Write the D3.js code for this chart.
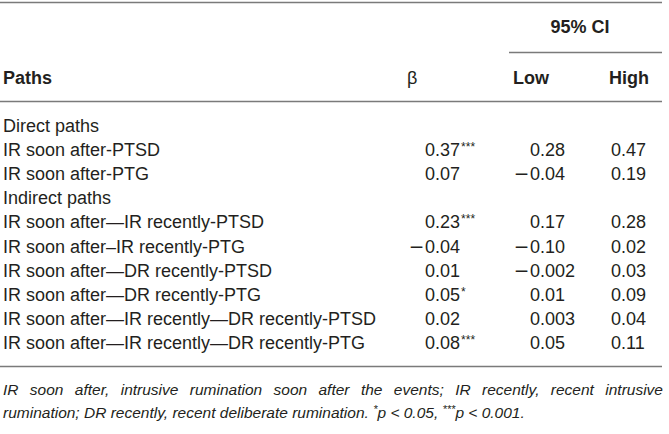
<!DOCTYPE html>
<html>
<head>
<meta charset="utf-8">
<script src="https://cdn.jsdelivr.net/npm/d3@7"></script>
<style>
  html, body { margin: 0; padding: 0; background: #fff; }
  svg { display: block; }
  text { font-family: "Liberation Sans", Arial, Helvetica, sans-serif; fill: #231f20; }
</style>
</head>
<body>
<svg id="chart" width="669" height="434"></svg>
<script>
// ---- data ----
const paths = [
  "Direct paths",
  "IR soon after-PTSD",
  "IR soon after-PTG",
  "Indirect paths",
  "IR soon after\u2014IR recently-PTSD",
  "IR soon after\u2013IR recently-PTG",
  "IR soon after\u2014DR recently-PTSD",
  "IR soon after\u2014DR recently-PTG",
  "IR soon after\u2014IR recently\u2014DR recently-PTSD",
  "IR soon after\u2014IR recently\u2014DR recently-PTG"
];
const beta   = [null, 0.37, 0.07, null, 0.23, -0.04, 0.01, 0.05, 0.02, 0.08];
const betaLabels = [null, "0.37", "0.07", null, "0.23", "0.04", "0.01", "0.05", "0.02", "0.08"];
const betaSig = ["", "***", "", "", "***", "", "", "*", "", "***"];
const low    = [null, 0.28, -0.04, null, 0.17, -0.10, -0.002, 0.01, 0.003, 0.05];
const lowLabels = [null, "0.28", "0.04", null, "0.17", "0.10", "0.002", "0.01", "0.003", "0.05"];
const high   = [null, 0.47, 0.19, null, 0.28, 0.02, 0.03, 0.09, 0.04, 0.11];
const highLabels = [null, "0.47", "0.19", null, "0.28", "0.02", "0.03", "0.09", "0.04", "0.11"];
const headers = ["Paths", "\u03b2", "Low", "High"];
const groupHeader = "95% CI";
const footLine1 = "IR soon after, intrusive rumination soon after the events; IR recently, recent intrusive";
const footLine2 = [
  {t: "rumination; DR recently, recent deliberate rumination. "},
  {t: "*", sup: true}, {t: "p < 0.05, "},
  {t: "***", sup: true}, {t: "p < 0.001."}
];

// ---- layout ----
const svg = d3.select("#chart");
const fs = 18;
const ffs = 15.5;
const lineColor = "#7a7a7a";

const y = d3.scalePoint().domain(d3.range(paths.length)).range([132, 349]);
const x = d3.scaleOrdinal().domain(["path", "beta", "low", "high"]).range([3, 425, 530, 611]);

function hline(x1, x2, yy) {
  svg.append("line").attr("x1", x1).attr("x2", x2).attr("y1", yy).attr("y2", yy)
    .attr("stroke", lineColor).attr("stroke-width", 1.3);
}
hline(0, 662, 2.5);
hline(509, 662, 52.5);
hline(0, 662, 101.5);
hline(0, 662, 366.5);

// headers
svg.append("text").attr("x", 580).attr("y", 33).attr("text-anchor", "middle")
  .attr("font-size", fs).attr("font-weight", "bold").text(groupHeader);
const hx = [3, 407, 513, 609];
headers.forEach((h, i) => {
  svg.append("text").attr("x", hx[i]).attr("y", 84).attr("font-size", fs)
    .attr("font-weight", i === 1 ? "normal" : "bold").text(h);
});

// rows
const rows = svg.append("g").selectAll("g").data(paths).join("g")
  .attr("transform", (d, i) => `translate(0,${y(i)})`);
rows.append("text").attr("x", x("path")).attr("font-size", fs).text(d => d);

function numCol(vals, labels, key, sig) {
  rows.each(function(d, i) {
    if (vals[i] === null) return;
    const g = d3.select(this);
    const t = g.append("text").attr("x", x(key)).attr("font-size", fs);
    t.append("tspan").text(labels[i]);
    if (sig && sig[i]) {
      t.append("tspan").attr("font-size", 12).attr("dx", 1).attr("dy", -5).text(sig[i]);
    }
    if (vals[i] < 0) {
      g.append("text").attr("x", x(key) - 1.5).attr("text-anchor", "end")
        .attr("font-size", fs).attr("textLength", 14).attr("lengthAdjust", "spacingAndGlyphs")
        .text("\u2212");
    }
  });
}
numCol(beta, betaLabels, "beta", betaSig);
numCol(low, lowLabels, "low");
numCol(high, highLabels, "high");

// footnote
const f1 = svg.append("text").attr("x", 3).attr("y", 395).attr("font-size", ffs)
  .attr("font-style", "italic").text(footLine1);
const target = 663 - 3;
const w1 = f1.node().getComputedTextLength();
const spaces = footLine1.split(" ").length - 1;
f1.attr("word-spacing", (target - w1) / spaces);

const f2 = svg.append("text").attr("x", 3).attr("y", 418).attr("font-size", ffs)
  .attr("font-style", "italic");
footLine2.forEach((p, i) => {
  const prev = i > 0 ? footLine2[i - 1] : null;
  let dy = 0;
  if (p.sup && !(prev && prev.sup)) dy = -5;
  if (!p.sup && prev && prev.sup) dy = 5;
  f2.append("tspan").attr("font-size", p.sup ? 11 : ffs).attr("dy", dy).text(p.t);
});
</script>
</body>
</html>
